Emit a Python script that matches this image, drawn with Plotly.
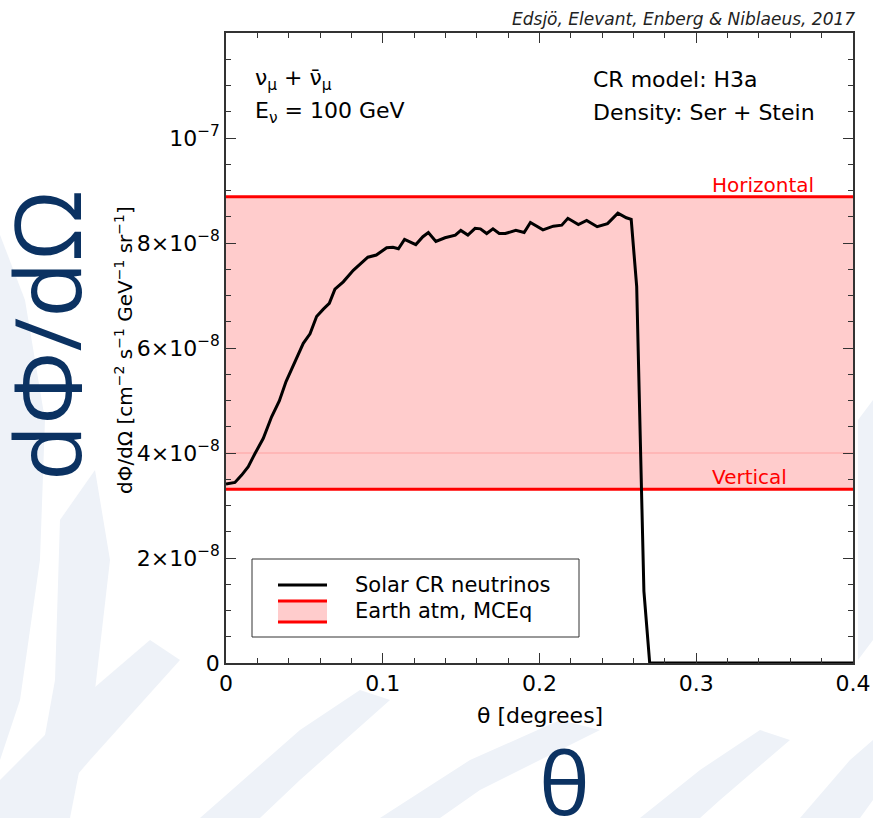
import plotly.graph_objects as go

# ---------------- data ----------------
theta_deg = [0.000, 0.0057, 0.0100, 0.0142, 0.0185, 0.0238, 0.0291, 0.0340, 0.0383,
             0.0440, 0.0493, 0.0536, 0.0578, 0.0621, 0.0659, 0.0695, 0.0748, 0.0812,
             0.0905, 0.0959, 0.1025, 0.1065, 0.1100, 0.1139, 0.1211, 0.1256, 0.1291,
             0.1339, 0.1397, 0.1463, 0.1498, 0.1543, 0.1589, 0.1623, 0.1663, 0.1703,
             0.1743, 0.1782, 0.1849, 0.1902, 0.1942, 0.2022, 0.2088, 0.2142, 0.2181,
             0.2248, 0.2301, 0.2368, 0.2434, 0.2500, 0.2554, 0.2585, 0.2620, 0.2666,
             0.2703, 0.4000]
solar_flux_e8 = [3.41, 3.44, 3.58, 3.74, 3.99, 4.28, 4.69, 4.99, 5.36,
                 5.74, 6.09, 6.27, 6.60, 6.74, 6.85, 7.12, 7.26, 7.48,
                 7.73, 7.77, 7.91, 7.92, 7.89, 8.07, 7.97, 8.12, 8.20,
                 8.03, 8.10, 8.15, 8.24, 8.15, 8.28, 8.27, 8.18, 8.27,
                 8.18, 8.18, 8.24, 8.20, 8.39, 8.25, 8.32, 8.34, 8.47,
                 8.35, 8.43, 8.31, 8.37, 8.57, 8.48, 8.45, 7.17, 1.37,
                 0.00, 0.00]
solar_flux = [v * 1e-8 for v in solar_flux_e8]

earth_horizontal = 8.88e-8
earth_vertical = 3.31e-8
band_seam = 4.0e-8
x_range = [0.0, 0.4]
y_range = [0.0, 1.2e-7]

x_tickvals = [0.0, 0.1, 0.2, 0.3, 0.4]
x_ticktext = ["0", "0.1", "0.2", "0.3", "0.4"]
y_tickvals = [0.0, 2e-8, 4e-8, 6e-8, 8e-8, 1e-7]
y_ticktext = ["0", "2×10<sup>−8</sup>", "4×10<sup>−8</sup>", "6×10<sup>−8</sup>",
              "8×10<sup>−8</sup>", "10<sup>−7</sup>"]

# ---------------- geometry (pixels) ----------------
W, H = 873, 818
ML, MR, MT, MB = 226, 20, 33, 155
PW, PH = W - ML - MR, H - MT - MB

def px(x):
    return (x - ML) / PW

def py(y):
    return (H - MB - y) / PH

FONT = "DejaVu Sans"
NAVY = "#0b3262"
PALE = "#eef2f8"
PINK = "#ffcccc"
RED = "#ff0000"

fig = go.Figure()

# atmospheric band: vertical (lower) and horizontal (upper) limits
fig.add_trace(go.Scatter(x=x_range, y=[earth_vertical] * 2, mode="lines",
                         line=dict(color=RED, width=3), showlegend=False,
                         hoverinfo="skip"))
fig.add_trace(go.Scatter(x=x_range, y=[earth_horizontal] * 2, mode="lines",
                         line=dict(color=RED, width=3), fill="tonexty",
                         fillcolor=PINK, showlegend=False, hoverinfo="skip"))
fig.add_trace(go.Scatter(x=x_range, y=[band_seam] * 2, mode="lines",
                         line=dict(color="rgba(255,90,90,0.35)", width=1),
                         showlegend=False, hoverinfo="skip"))
# solar cosmic-ray neutrino flux
fig.add_trace(go.Scatter(x=theta_deg, y=solar_flux, mode="lines",
                         line=dict(color="black", width=3), showlegend=False))

shapes = []

# faint background feather pattern
def band(points):
    d = "M " + " L ".join(f"{px(x):.4f},{py(y):.4f}" for x, y in points) + " Z"
    return dict(type="path", xref="paper", yref="paper", path=d,
                fillcolor=PALE, line=dict(width=0), layer="below")

shapes += [
    band([(0, 235), (25, 300), (45, 420), (40, 560), (20, 700), (0, 760)]),
    band([(60, 520), (95, 470), (110, 560), (95, 690), (70, 818), (30, 818), (55, 680)]),
    band([(0, 780), (80, 700), (150, 640), (180, 660), (90, 760), (40, 818), (0, 818)]),
    band([(200, 818), (300, 730), (360, 690), (390, 700), (300, 780), (260, 818)]),
    band([(380, 818), (470, 760), (560, 720), (600, 730), (480, 790), (440, 818)]),
    band([(640, 818), (700, 770), (760, 730), (790, 740), (720, 800), (700, 818)]),
    band([(800, 818), (850, 760), (873, 740), (873, 800), (860, 818)]),
    band([(858, 420), (873, 400), (873, 640), (858, 660)]),
]

# legend frame and keys
shapes.append(dict(type="rect", xref="paper", yref="paper",
                   x0=px(252), x1=px(579), y0=py(559), y1=py(637),
                   line=dict(color="#333333", width=1), fillcolor="white"))
shapes.append(dict(type="line", xref="paper", yref="paper",
                   x0=px(278), x1=px(327), y0=py(585), y1=py(585),
                   line=dict(color="black", width=3)))
shapes.append(dict(type="rect", xref="paper", yref="paper",
                   x0=px(278), x1=px(327), y0=py(601), y1=py(622),
                   line=dict(width=0), fillcolor=PINK))
for yy in (601, 622):
    shapes.append(dict(type="line", xref="paper", yref="paper",
                       x0=px(278), x1=px(327), y0=py(yy), y1=py(yy),
                       line=dict(color=RED, width=3)))

annotations = [
    dict(text="Solar CR neutrinos", x=px(353), y=py(585), xanchor="left",
         yanchor="middle", font=dict(size=21, color="black", family=FONT)),
    dict(text="Earth atm, MCEq", x=px(353), y=py(611), xanchor="left",
         yanchor="middle", font=dict(size=21, color="black", family=FONT)),
    dict(text="ν<sub>μ</sub> + ν̄<sub>μ</sub>", x=px(253), y=py(80), xanchor="left",
         yanchor="middle", font=dict(size=22, color="black", family=FONT)),
    dict(text="E<sub>ν</sub> = 100 GeV", x=px(253), y=py(112), xanchor="left",
         yanchor="middle", font=dict(size=22, color="black", family=FONT)),
    dict(text="CR model: H3a", x=px(591), y=py(80), xanchor="left",
         yanchor="middle", font=dict(size=22, color="black", family=FONT)),
    dict(text="Density: Ser + Stein", x=px(591), y=py(112), xanchor="left",
         yanchor="middle", font=dict(size=22, color="black", family=FONT)),
    dict(text="Horizontal", x=px(710), y=py(185), xanchor="left",
         yanchor="middle", font=dict(size=20, color=RED, family=FONT)),
    dict(text="Vertical", x=px(710), y=py(477), xanchor="left",
         yanchor="middle", font=dict(size=20, color=RED, family=FONT)),
    dict(text="<i>Edsjö, Elevant, Enberg & Niblaeus, 2017</i>", x=px(857), y=py(19),
         xanchor="right", yanchor="middle",
         font=dict(size=17, color="#222222", family=FONT)),
    dict(text="dΦ/dΩ [cm<sup>−2</sup> s<sup>−1</sup> GeV<sup>−1</sup> sr<sup>−1</sup>]",
         x=px(124), y=py(350), xanchor="center", yanchor="middle", textangle=-90,
         font=dict(size=20, color="black", family=FONT)),
    dict(text="θ [degrees]", x=px(540), y=py(715), xanchor="center",
         yanchor="middle", font=dict(size=22, color="black", family=FONT)),
    dict(text="dΦ/dΩ", x=px(45), y=py(336), xanchor="center", yanchor="middle",
         textangle=-90, font=dict(size=92, color=NAVY, family="Open Sans")),
    dict(text="θ", x=px(564), y=py(781), xanchor="center", yanchor="middle",
         font=dict(size=86, color=NAVY, family="Open Sans")),
]
for a in annotations:
    a.setdefault("xref", "paper")
    a.setdefault("yref", "paper")
    a["showarrow"] = False

axis_common = dict(showgrid=False, zeroline=False, showline=True, linecolor="#333333",
                   linewidth=1.5, ticks="inside", ticklen=10, tickwidth=1,
                   tickcolor="#333333", mirror="allticks", automargin=False,
                   tickfont=dict(family=FONT, size=22, color="black"))

fig.update_xaxes(range=x_range, tickmode="array", tickvals=x_tickvals,
                 ticktext=x_ticktext,
                 minor=dict(dtick=0.02, ticks="inside", ticklen=5, tickcolor="#333333"),
                 **axis_common)
fig.update_yaxes(range=y_range, tickmode="array", tickvals=y_tickvals,
                 ticktext=y_ticktext,
                 minor=dict(dtick=0.5e-8, ticks="inside", ticklen=5, tickcolor="#333333"),
                 **axis_common)

fig.update_layout(width=W, height=H, autosize=False,
                  margin=dict(l=ML, r=MR, t=MT, b=MB, autoexpand=False),
                  paper_bgcolor="white", plot_bgcolor="white",
                  shapes=shapes, annotations=annotations, showlegend=False)

fig.write_html("out.html", config={"responsive": False},
               default_width=f"{W}px", default_height=f"{H}px",
               post_script="document.body.style.margin='0';"
                           "document.body.style.overflow='hidden';")
